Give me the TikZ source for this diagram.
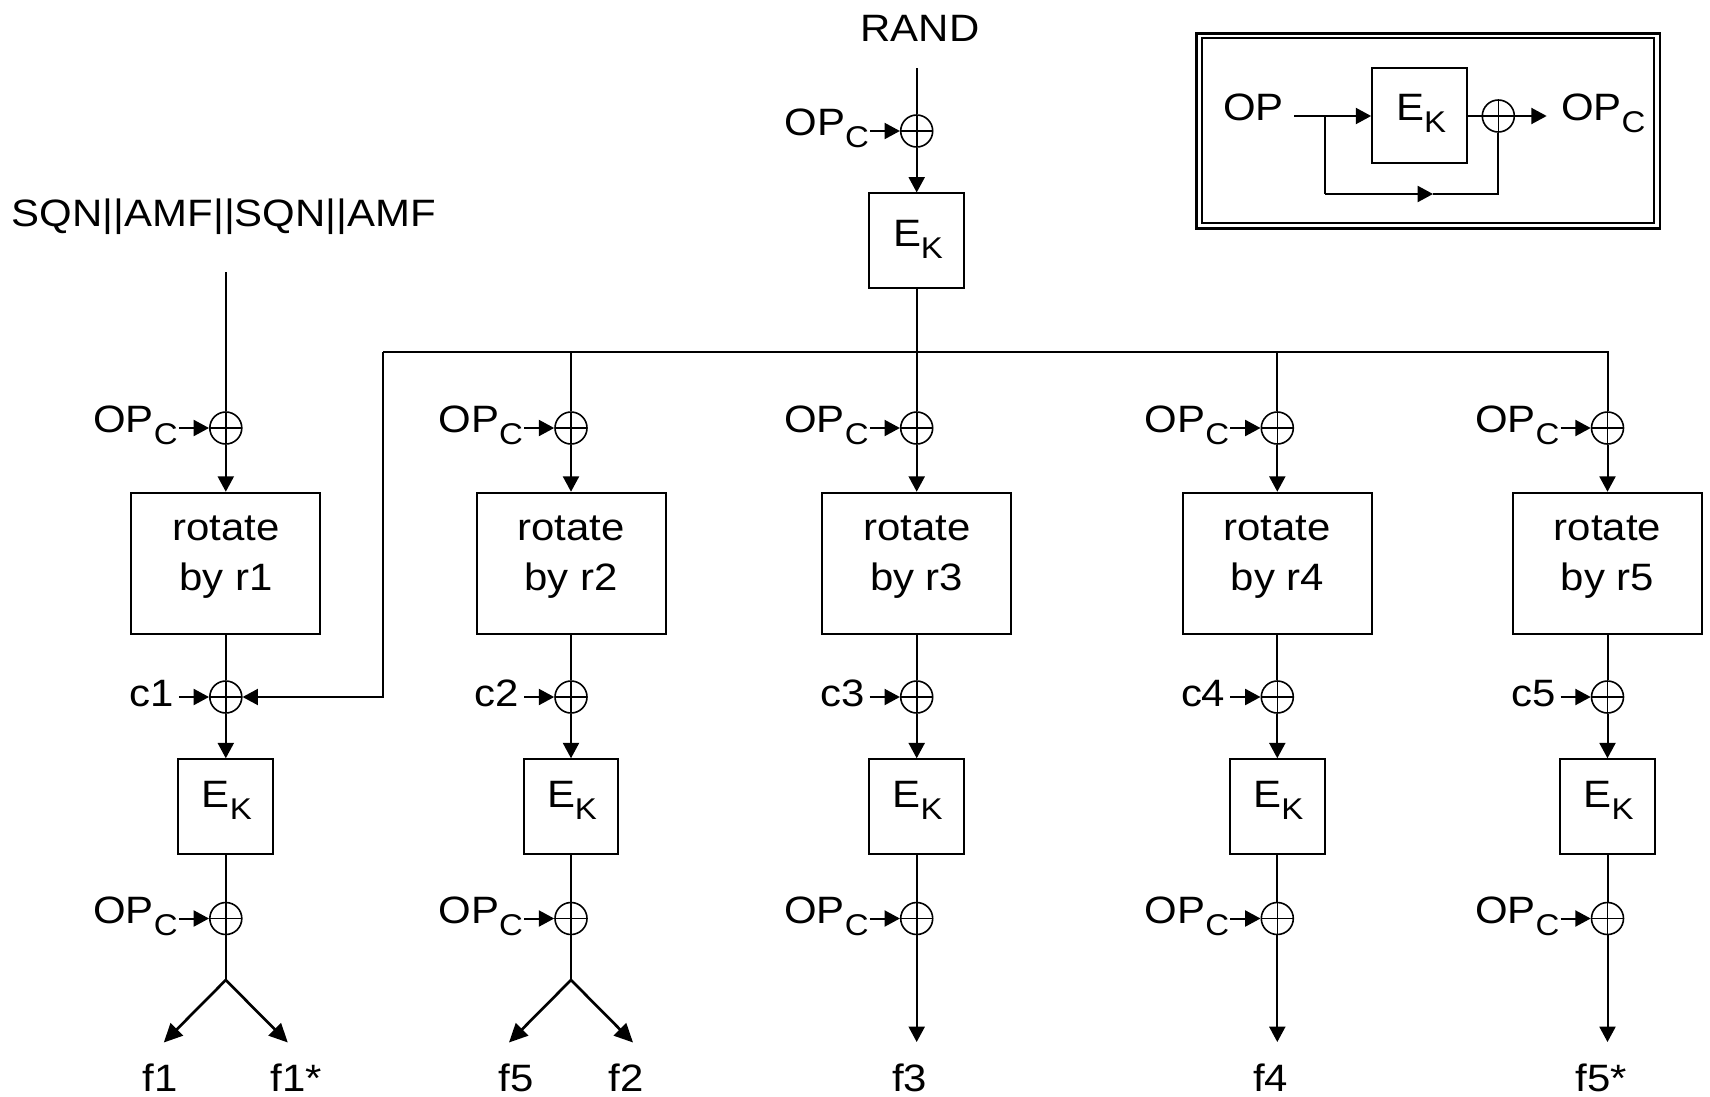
\documentclass[tikz,border=0pt]{standalone}
\usepackage{fontspec}
\setmainfont{Liberation Sans}[FakeStretch=1.1]
\usetikzlibrary{arrows.meta}
\newcommand\lsub[1]{\raisebox{-9pt}{\fontsize{22.5pt}{22.5pt}\selectfont #1}}
\begin{document}
\begin{tikzpicture}[x=0.75pt,y=-0.75pt,
  line width=1.5pt,
  every node/.style={inner sep=0pt, font=\fontsize{28.6pt}{34pt}\selectfont},
  arr/.style={-{Triangle[length=11.5pt,width=12pt]}},
  darr/.style={line width=2pt,-{Triangle[length=14pt,width=13pt]}},
  blk/.style={draw, line width=1.5pt, minimum width=71pt, minimum height=71pt},
  rotbox/.style={draw, line width=1.5pt, minimum width=141.75pt, minimum height=106pt},
  xor/.style={circle, draw, line width=1.2pt, minimum size=24pt,
    path picture={\draw[line width=1.2pt] (path picture bounding box.north) -- (path picture bounding box.south)
      (path picture bounding box.west) -- (path picture bounding box.east);}},
  lbl/.style={anchor=base east},
  flbl/.style={anchor=base},
]
\useasboundingbox (0,0) rectangle (1710,1096);

% ---- top: RAND
\node[flbl] (rand) at (920,41.7) {RAND};
\coordinate (randend) at (916.7,68);
\node[xor] (xt) at (916.7,131) {};
\node[lbl] (opt) at (870,135) {OP\lsub{C}};
\node[blk] (ek0) at (916.7,240.8) {};
\node[flbl] (ek0t) at (918,246.7) {E\lsub{K}};
\draw (randend) -- (xt.north);
\draw[arr] (opt.east |- xt.center) -- (xt.west);
\draw[arr] (xt.south) -- (ek0.north);

% ---- SQN input
\node[flbl] (sqn) at (224,226.7) {SQN||AMF||SQN||AMF};
\coordinate (sqnend) at (225.8,272);

% ---- bus
\coordinate (busL) at (383,351.5);
\coordinate (busR) at (1607.5,351.5);

% ---- columns
\foreach \i/\x in {1/225.8,2/571,3/916.7,4/1277.3,5/1607.5}{
  \node[xor] (xa\i) at (\x,428) {};
  \node[lbl] (opa\i) at (\x-47,432.5) {OP\lsub{C}};
  \node[rotbox] (rot\i) at (\x,563.4) {};
  \node[flbl] (rotta\i) at (\x,540.7) {rotate};
  \node[flbl] (rottb\i) at (\x,590) {by r\i};
  \node[xor] (xc\i) at (\x,697) {};
  \node[lbl] (cl\i) at (\x-51,706) {c\i};
  \node[blk] (ek\i) at (\x,806.6) {};
  \node[flbl] (ekt\i) at (\x+1,807.5) {E\lsub{K}};
  \node[xor] (xb\i) at (\x,918.5) {};
  \node[lbl] (opb\i) at (\x-47,923) {OP\lsub{C}};
  \draw[arr] (opa\i.east |- xa\i.center) -- (xa\i.west);
  \draw[arr] (xa\i.south) -- (rot\i.north);
  \draw (rot\i.south) -- (xc\i.north);
  \draw[arr, shorten <=3pt] (cl\i.east |- xc\i.center) -- (xc\i.west);
  \draw[arr] (xc\i.south) -- (ek\i.north);
  \draw (ek\i.south) -- (xb\i.north);
  \draw[arr] (opb\i.east |- xb\i.center) -- (xb\i.west);
}

\draw (sqnend) -- (xa1.north);
\draw (busL) -- (busR) -- (xa5.north);
\draw (xa2.north |- busL) -- (xa2.north);
\draw (xa4.north |- busL) -- (xa4.north);
\draw (ek0.south) -- (xa3.north);
\draw[arr] (busL) |- (xc1.east);

% ---- outputs
\coordinate (sp1) at (225.8,980);
\coordinate (t1a) at (163.8,1042.5);
\coordinate (t1b) at (287.8,1042.5);
\coordinate (sp2) at (571,980);
\coordinate (t2a) at (509,1042.5);
\coordinate (t2b) at (633,1042.5);
\coordinate (t3) at (916.7,1042);
\coordinate (t4) at (1277.3,1042);
\coordinate (t5) at (1607.5,1042);
\draw (xb1.south) -- (sp1);
\draw[darr] (sp1) -- (t1a);
\draw[darr] (sp1) -- (t1b);
\draw (xb2.south) -- (sp2);
\draw[darr] (sp2) -- (t2a);
\draw[darr] (sp2) -- (t2b);
\draw[arr] (xb3.south) -- (t3);
\draw[arr] (xb4.south) -- (t4);
\draw[arr] (xb5.south) -- (t5);

\node[flbl] (f1) at (160,1091) {f1};
\node[flbl] (f1s) at (296,1091) {f1*};
\node[flbl] (f5) at (516,1091) {f5};
\node[flbl] (f2) at (626,1091) {f2};
\node[flbl] (f3) at (909.5,1091) {f3};
\node[flbl] (f4) at (1270.5,1091) {f4};
\node[flbl] (f5s) at (1601,1091) {f5*};

% ---- inset
\draw[line width=2pt] (1196.7,33.3) rectangle (1660,228.3);
\draw[line width=1.5pt] (1201.7,38.3) rectangle (1654.3,222.7);
\node[flbl] (iop) at (1253.5,120) {OP};
\coordinate (istart) at (1294,116);
\coordinate (ifork) at (1325,116);
\node[blk] (iek) at (1419.5,115.5) {};
\node[flbl] (iekt) at (1421,120) {E\lsub{K}};
\node[xor] (ix) at (1498.3,116) {};
\node[anchor=base west] (iopc) at (1560,120) {OP\lsub{C}};
\coordinate (ifb) at (1325,194);
\coordinate (imid) at (1433,194);
\draw (istart) -- (ifork);
\draw[arr] (ifork) -- (iek.west |- ifork);
\draw (iek.east |- ix.center) -- (ix.west);
\draw[arr, shorten >=10pt] (ix.east) -- (iopc.west |- ix.center);
\draw (ifork) -- (ifb);
\draw[arr] (ifb) -- (imid);
\draw (imid) -- (imid -| ix.south) -- (ix.south);
\end{tikzpicture}
\end{document}
